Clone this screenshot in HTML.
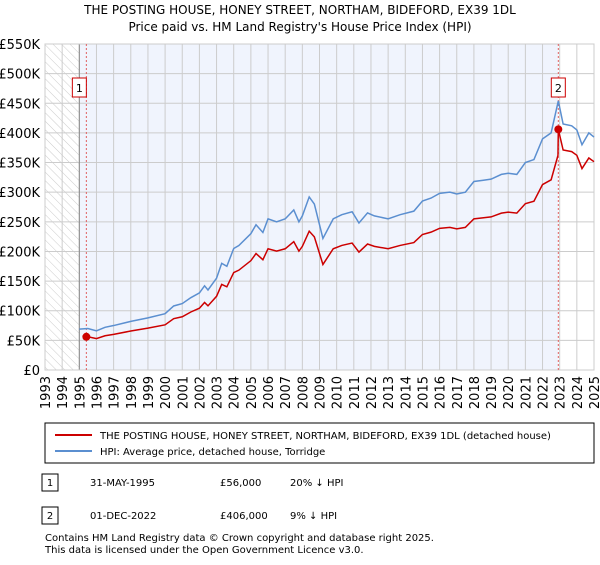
<!DOCTYPE html>
<html><head><meta charset="utf-8"><style>
body{margin:0;background:#fff;font-family:"Liberation Sans","DejaVu Sans",sans-serif;}
svg text{font-family:"DejaVu Sans","Liberation Sans",sans-serif;}
</style></head><body>
<svg width="600" height="560">
<defs><pattern id="hatch" width="6" height="6" patternUnits="userSpaceOnUse" patternTransform="rotate(-45)"><line x1="0" y1="0" x2="0" y2="6" stroke="#ccc" stroke-width="1"/></pattern></defs>
<text x="300" y="14" text-anchor="middle" font-size="12">THE POSTING HOUSE, HONEY STREET, NORTHAM, BIDEFORD, EX39 1DL</text>
<text x="300" y="31" text-anchor="middle" font-size="12">Price paid vs. HM Land Registry's House Price Index (HPI)</text>
<g id="plot"></g>
<rect x="45" y="423" width="549" height="40" fill="#fff" stroke="#000" stroke-width="1"/>
<line x1="55" y1="435" x2="92" y2="435" stroke="#cc0000" stroke-width="2"/>
<text x="100" y="439" font-size="10">THE POSTING HOUSE, HONEY STREET, NORTHAM, BIDEFORD, EX39 1DL (detached house)</text>
<line x1="55" y1="451" x2="92" y2="451" stroke="#5b8fd0" stroke-width="2"/>
<text x="100" y="455" font-size="10">HPI: Average price, detached house, Torridge</text>
<g font-size="10">
<rect x="42" y="474" width="16" height="17" fill="#fff" stroke="#000"/>
<text x="50" y="486" text-anchor="middle">1</text>
<text x="90" y="486">31-MAY-1995</text>
<text x="220" y="486">£56,000</text>
<text x="290" y="486">20% ↓ HPI</text>
<rect x="42" y="507" width="16" height="17" fill="#fff" stroke="#000"/>
<text x="50" y="519" text-anchor="middle">2</text>
<text x="90" y="519">01-DEC-2022</text>
<text x="220" y="519">£406,000</text>
<text x="290" y="519">9% ↓ HPI</text>
<text x="45" y="541">Contains HM Land Registry data © Crown copyright and database right 2025.</text>
<text x="45" y="553">This data is licensed under the Open Government Licence v3.0.</text>
</g>
</svg>
<script>
const hpiYears=[1995.0,1995.5,1996.0,1996.5,1997.0,1998.0,1999.0,2000.0,2000.5,2001.0,2001.5,2002.0,2002.3,2002.5,2003.0,2003.3,2003.6,2004.0,2004.3,2005.0,2005.3,2005.7,2006.0,2006.5,2007.0,2007.5,2007.8,2008.0,2008.4,2008.7,2009.2,2009.8,2010.3,2010.9,2011.3,2011.8,2012.2,2013.0,2013.7,2014.5,2015.0,2015.5,2016.0,2016.6,2017.0,2017.5,2018.0,2018.5,2019.0,2019.6,2020.0,2020.5,2021.0,2021.5,2022.0,2022.5,2022.92,2023.2,2023.7,2024.0,2024.3,2024.7,2025.0];
const hpiValues=[69,70,66,72,75,82,88,95,108,112,122,130,142,135,155,180,175,205,210,230,245,232,255,250,255,270,250,260,292,280,222,255,262,267,248,265,260,255,262,268,285,290,298,300,297,300,318,320,322,330,332,330,350,355,390,400,454,415,412,405,380,400,393];
const saleDates=[1995.41,2022.92];
const salePrices=[56,406];
const yTicks=[0,50,100,150,200,250,300,350,400,450,500,550];
const xTicks=[1993,1994,1995,1996,1997,1998,1999,2000,2001,2002,2003,2004,2005,2006,2007,2008,2009,2010,2011,2012,2013,2014,2015,2016,2017,2018,2019,2020,2021,2022,2023,2024,2025];
const NS='http://www.w3.org/2000/svg';
const X0=45,X1=594,Y0=370,Y1=44;
const xs=t=>X0+(t-1993)/(2025-1993)*(X1-X0);
const ys=v=>Y0-v/550*(Y0-Y1);
const g=document.getElementById('plot');
function mk(tag,attrs){const e=document.createElementNS(NS,tag);for(const k in attrs)e.setAttribute(k,attrs[k]);g.appendChild(e);return e;}
let e;
e=mk('rect',{x:xs(1995),y:Y1,width:xs(saleDates[1])-xs(1995),height:Y0-Y1,fill:'#f0f4fd'});


e=mk('rect',{x:X0,y:Y1,width:xs(1995)-X0,height:Y0-Y1,fill:'url(#hatch)'});


yTicks.forEach(v=>{
 e=mk('line',{x1:X0,x2:X1,y1:ys(v),y2:ys(v),stroke:'#ccc','stroke-width':1});
 
 
 e=mk('text',{x:40,y:ys(v)+5,'text-anchor':'end','font-size':13});
 e.textContent=v===0?'£0':'£'+v+'K';
 
 
});
xTicks.forEach(t=>{
 e=mk('line',{x1:xs(t),x2:xs(t),y1:Y1,y2:Y0,stroke:'#ccc','stroke-width':1});
 
 
 e=mk('text',{x:0,y:0,'font-size':13,'text-anchor':'end',transform:`translate(${xs(t)+5},376) rotate(-90)`});
 e.textContent=t;
 
 
});
e=mk('line',{x1:xs(1995),x2:xs(1995),y1:Y1,y2:Y0,stroke:'#888','stroke-width':1});


e=mk('rect',{x:X0,y:Y1,width:X1-X0,height:Y0-Y1,fill:'none',stroke:'#ccc'});


saleDates.forEach((d,i)=>{
 e=mk('line',{x1:xs(d),x2:xs(d),y1:Y1,y2:Y0,stroke:'#e06060','stroke-width':1,'stroke-dasharray':'2,2'});
 
 
});
function hpiAt(t){for(let i=0;i<hpiYears.length-1;i++){if(t<=hpiYears[i+1]){const f=(t-hpiYears[i])/(hpiYears[i+1]-hpiYears[i]);return hpiValues[i]+f*(hpiValues[i+1]-hpiValues[i]);}}return hpiValues[hpiValues.length-1];}
// price-paid line: HPI scaled by ratio at latest sale
let rp=[];
const r0=salePrices[0]/hpiAt(saleDates[0]),r1=salePrices[1]/hpiAt(saleDates[1]);
rp.push([saleDates[0],salePrices[0]]);
hpiYears.forEach((t,i)=>{if(t>saleDates[0]&&t<saleDates[1])rp.push([t,hpiValues[i]*r0]);});
rp.push([saleDates[1]-0.02,hpiAt(saleDates[1]-0.02)*r0]);
rp.push([saleDates[1],salePrices[1]]);
hpiYears.forEach((t,i)=>{if(t>saleDates[1])rp.push([t,hpiValues[i]*r1]);});
e=mk('polyline',{points:hpiYears.map((t,i)=>xs(t)+','+ys(hpiValues[i])).join(' '),fill:'none',stroke:'#5b8fd0','stroke-width':1.5});


e=mk('polyline',{points:rp.map(p=>xs(p[0])+','+ys(p[1])).join(' '),fill:'none',stroke:'#cc0000','stroke-width':1.5});


saleDates.forEach((d,i)=>{
 e=mk('circle',{cx:xs(d),cy:ys(salePrices[i]),r:4,fill:'#cc0000'});
 
 
 const bx=xs(d)-(i===0?7:0)-7;
 e=mk('rect',{x:bx,y:78,width:14,height:19,fill:'#fff',stroke:'#cc0000'});
 
 
 e=mk('text',{x:bx+7,y:92,'text-anchor':'middle','font-size':11});
 e.textContent=String(i+1);
 
 
});
</script>
</body></html>
